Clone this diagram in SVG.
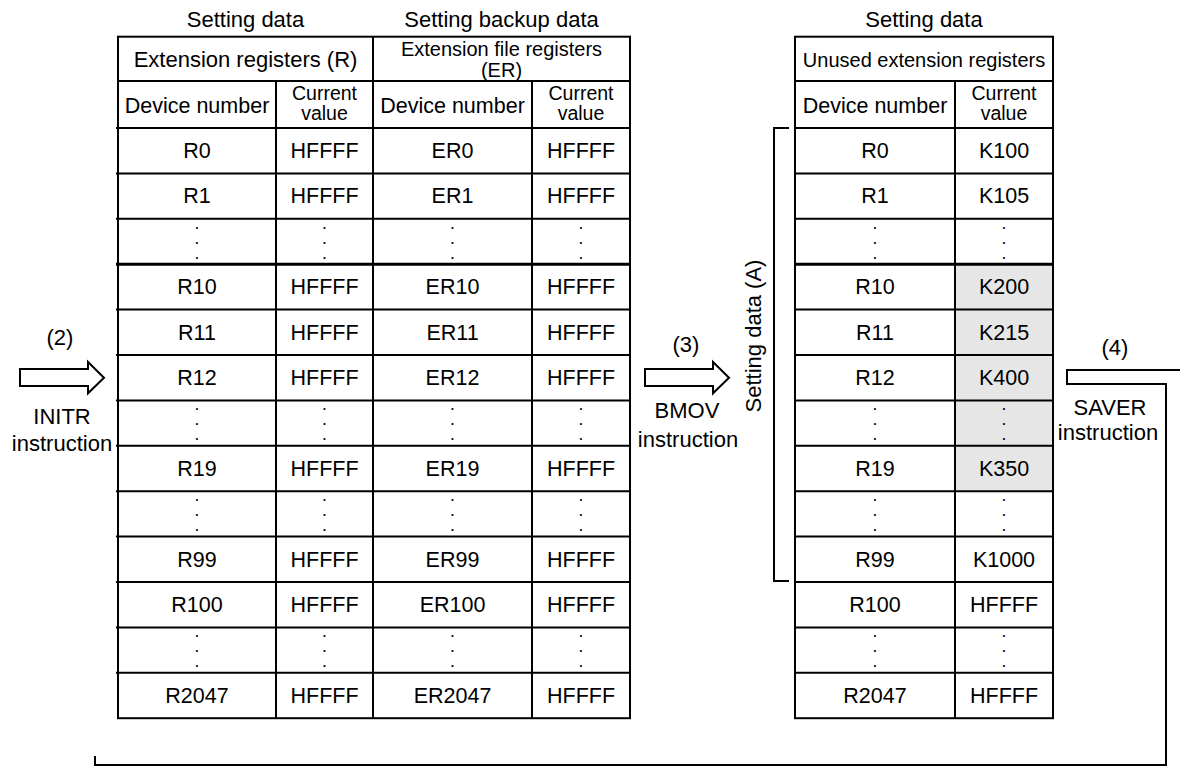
<svg xmlns="http://www.w3.org/2000/svg" width="1180" height="774" viewBox="0 0 1180 774">
<style>
text{font-family:"Liberation Sans",Arial,sans-serif;fill:#000;text-anchor:middle}
.c{font-size:21.5px}
.h2{font-size:20px}
.cv{font-size:19.5px}
.l{font-size:22px}
.d{font-size:12px;font-weight:bold}
.ln{stroke:#000;stroke-width:2;fill:none}
.thk{stroke:#000;stroke-width:3;fill:none}
.arr{stroke:#000;stroke-width:2;fill:#fff;stroke-linejoin:miter}
</style>
<rect width="1180" height="774" fill="#fff"/>

<g id="labels-top" class="l">
<text x="245.5" y="26.5">Setting data</text>
<text x="501.5" y="26.5">Setting backup data</text>
<text x="924" y="26.5">Setting data</text>
</g>

<g id="table-r-er">
<rect class="ln" x="118" y="36.7" width="512" height="681.5"/>
<path class="ln" d="M373,36.7V718.2M276,81V718.2M532,81V718.2M118,81H630M116,128H630M116,173.4H630M116,218.8H630M116,309.6H630M116,355H630M116,400.4H630M116,445.8H630M116,491.2H630M116,536.6H630M116,582H630M116,627.4H630M116,672.8H630"/>
<path class="thk" d="M116,264.2H630"/>
<text x="245.5" y="66.5" style="font-size:22px">Extension registers (R)</text>
<text class="h2" x="501.5" y="56">Extension file registers</text>
<text class="h2" x="501.5" y="77">(ER)</text>
<text class="c" x="197" y="112.5">Device number</text>
<text class="c" x="452.5" y="112.5">Device number</text>
<text class="cv" x="324.5" y="100">Current</text>
<text class="cv" x="324.5" y="120">value</text>
<text class="cv" x="581" y="100">Current</text>
<text class="cv" x="581" y="120">value</text>
<g class="c">
<text x="197" y="158">R0</text><text x="324.5" y="158">HFFFF</text><text x="452.5" y="158">ER0</text><text x="581" y="158">HFFFF</text>
<text x="197" y="203.4">R1</text><text x="324.5" y="203.4">HFFFF</text><text x="452.5" y="203.4">ER1</text><text x="581" y="203.4">HFFFF</text>
<text x="197" y="294.2">R10</text><text x="324.5" y="294.2">HFFFF</text><text x="452.5" y="294.2">ER10</text><text x="581" y="294.2">HFFFF</text>
<text x="197" y="339.6">R11</text><text x="324.5" y="339.6">HFFFF</text><text x="452.5" y="339.6">ER11</text><text x="581" y="339.6">HFFFF</text>
<text x="197" y="385">R12</text><text x="324.5" y="385">HFFFF</text><text x="452.5" y="385">ER12</text><text x="581" y="385">HFFFF</text>
<text x="197" y="475.8">R19</text><text x="324.5" y="475.8">HFFFF</text><text x="452.5" y="475.8">ER19</text><text x="581" y="475.8">HFFFF</text>
<text x="197" y="566.6">R99</text><text x="324.5" y="566.6">HFFFF</text><text x="452.5" y="566.6">ER99</text><text x="581" y="566.6">HFFFF</text>
<text x="197" y="612">R100</text><text x="324.5" y="612">HFFFF</text><text x="452.5" y="612">ER100</text><text x="581" y="612">HFFFF</text>
<text x="197" y="702.8">R2047</text><text x="324.5" y="702.8">HFFFF</text><text x="452.5" y="702.8">ER2047</text><text x="581" y="702.8">HFFFF</text>
</g>
<g class="d">
<text x="197" y="228.5">.</text><text x="197" y="243.5">.</text><text x="197" y="258.5">.</text>
<text x="324.5" y="228.5">.</text><text x="324.5" y="243.5">.</text><text x="324.5" y="258.5">.</text>
<text x="452.5" y="228.5">.</text><text x="452.5" y="243.5">.</text><text x="452.5" y="258.5">.</text>
<text x="581" y="228.5">.</text><text x="581" y="243.5">.</text><text x="581" y="258.5">.</text>
<text x="197" y="410.1">.</text><text x="197" y="425.1">.</text><text x="197" y="440.1">.</text>
<text x="324.5" y="410.1">.</text><text x="324.5" y="425.1">.</text><text x="324.5" y="440.1">.</text>
<text x="452.5" y="410.1">.</text><text x="452.5" y="425.1">.</text><text x="452.5" y="440.1">.</text>
<text x="581" y="410.1">.</text><text x="581" y="425.1">.</text><text x="581" y="440.1">.</text>
<text x="197" y="500.9">.</text><text x="197" y="515.9">.</text><text x="197" y="530.9">.</text>
<text x="324.5" y="500.9">.</text><text x="324.5" y="515.9">.</text><text x="324.5" y="530.9">.</text>
<text x="452.5" y="500.9">.</text><text x="452.5" y="515.9">.</text><text x="452.5" y="530.9">.</text>
<text x="581" y="500.9">.</text><text x="581" y="515.9">.</text><text x="581" y="530.9">.</text>
<text x="197" y="637.1">.</text><text x="197" y="652.1">.</text><text x="197" y="667.1">.</text>
<text x="324.5" y="637.1">.</text><text x="324.5" y="652.1">.</text><text x="324.5" y="667.1">.</text>
<text x="452.5" y="637.1">.</text><text x="452.5" y="652.1">.</text><text x="452.5" y="667.1">.</text>
<text x="581" y="637.1">.</text><text x="581" y="652.1">.</text><text x="581" y="667.1">.</text>
</g>
</g>

<g id="table-unused">
<rect x="955" y="264.2" width="98" height="227" fill="#e6e6e6"/>
<rect class="ln" x="795" y="36.7" width="258" height="681.5"/>
<path class="ln" d="M955,81V718.2M795,81H1053M795,128H1053M795,173.4H1053M795,218.8H1053M795,309.6H1053M795,355H1053M795,400.4H1053M795,445.8H1053M795,491.2H1053M795,536.6H1053M795,582H1053M795,627.4H1053M795,672.8H1053"/>
<path class="thk" d="M795,264.2H1053"/>
<text x="924" y="66.5" style="font-size:20px">Unused extension registers</text>
<text class="c" x="875" y="112.5">Device number</text>
<text class="cv" x="1004" y="100">Current</text>
<text class="cv" x="1004" y="120">value</text>
<g class="c">
<text x="875" y="158">R0</text><text x="1004" y="158">K100</text>
<text x="875" y="203.4">R1</text><text x="1004" y="203.4">K105</text>
<text x="875" y="294.2">R10</text><text x="1004" y="294.2">K200</text>
<text x="875" y="339.6">R11</text><text x="1004" y="339.6">K215</text>
<text x="875" y="385">R12</text><text x="1004" y="385">K400</text>
<text x="875" y="475.8">R19</text><text x="1004" y="475.8">K350</text>
<text x="875" y="566.6">R99</text><text x="1004" y="566.6">K1000</text>
<text x="875" y="612">R100</text><text x="1004" y="612">HFFFF</text>
<text x="875" y="702.8">R2047</text><text x="1004" y="702.8">HFFFF</text>
</g>
<g class="d">
<text x="875" y="228.5">.</text><text x="875" y="243.5">.</text><text x="875" y="258.5">.</text>
<text x="1004" y="228.5">.</text><text x="1004" y="243.5">.</text><text x="1004" y="258.5">.</text>
<text x="875" y="410.1">.</text><text x="875" y="425.1">.</text><text x="875" y="440.1">.</text>
<text x="1004" y="410.1">.</text><text x="1004" y="425.1">.</text><text x="1004" y="440.1">.</text>
<text x="875" y="500.9">.</text><text x="875" y="515.9">.</text><text x="875" y="530.9">.</text>
<text x="1004" y="500.9">.</text><text x="1004" y="515.9">.</text><text x="1004" y="530.9">.</text>
<text x="875" y="637.1">.</text><text x="875" y="652.1">.</text><text x="875" y="667.1">.</text>
<text x="1004" y="637.1">.</text><text x="1004" y="652.1">.</text><text x="1004" y="667.1">.</text>
</g>
</g>

<g id="bracket-a">
<path class="ln" d="M789,128H774V581H789"/>
<text class="l" transform="translate(761,336) rotate(-90)">Setting data (A)</text>
</g>

<g id="step-2" class="l">
<text x="60" y="345">(2)</text>
<text x="62" y="424">INITR</text>
<text x="62" y="451">instruction</text>
</g>
<g id="step-3" class="l">
<text x="686" y="352">(3)</text>
<text x="687" y="418">BMOV</text>
<text x="688" y="447">instruction</text>
</g>
<g id="step-4" class="l">
<text x="1115" y="355">(4)</text>
<text x="1110" y="415">SAVER</text>
<text x="1108" y="440">instruction</text>
</g>

<g id="connectors">
<path class="arr" d="M20,369H88V362L104,377.7L88,393.3V386H20Z"/>
<path class="arr" d="M645,369H713V362L729,377.7L713,393.3V386H645Z"/>
<path class="ln" d="M1181,370H1067V384H1166V765H95V756"/>
</g>
</svg>
